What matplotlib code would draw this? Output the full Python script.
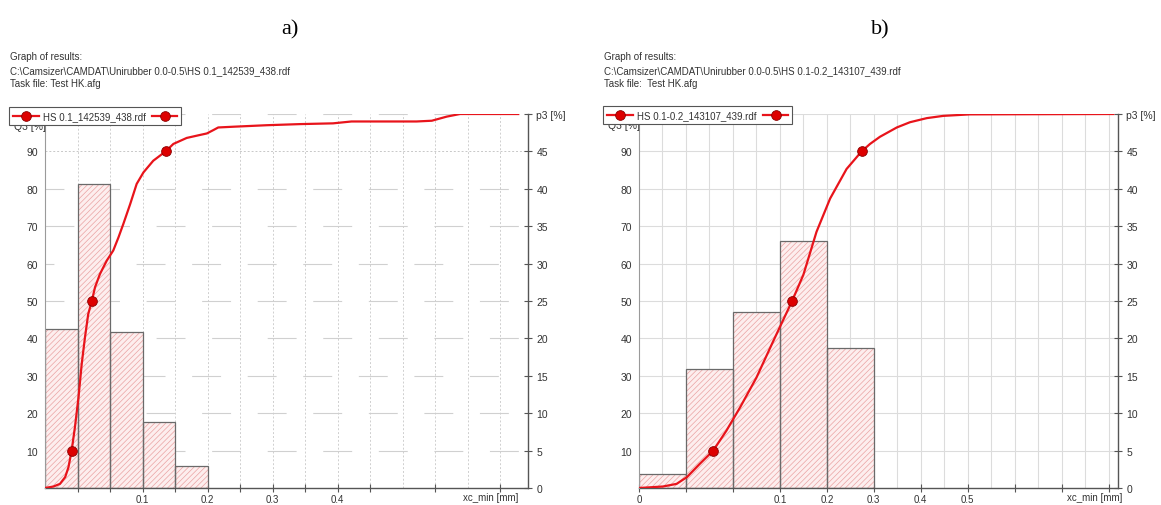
import matplotlib.pyplot as plt
import matplotlib.transforms as mtransforms
from matplotlib.lines import Line2D
from matplotlib.patches import Rectangle

W, H = 1161, 506

# ---- panel a: HS 0.1 ----
a_bins = [0, 1, 2, 3, 4]                      # class index on the xc_min axis
a_p3 = [21.2, 40.6, 20.8, 8.8, 3.0]           # p3 [%]
a_curve_x = [0, 0.26, 0.46, 0.62, 0.72, 0.82, 0.92, 1.03, 1.13, 1.23, 1.33, 1.44,
             1.54, 1.69, 1.9, 2.1, 2.26, 2.41, 2.62, 2.82, 3.03, 3.33, 3.71, 3.95,
             4.36, 4.77, 4.98, 5.18, 5.33, 5.8, 6.82, 7.85, 8.86, 9.43, 11.43, 11.9,
             12.36, 12.77, 14.56]
a_curve_q3 = [0, 0.4, 1.1, 2.9, 5.5, 10, 16.2, 24.2, 33.2, 40.3, 46.5, 50,
              53.7, 57.2, 60.8, 63.5, 67, 70.6, 75.9, 81.3, 84.4, 87.5, 90, 92,
              93.6, 94.4, 94.8, 95.7, 96.4, 96.6, 97, 97.3, 97.5, 98, 98, 98.2,
              99.3, 100, 100]
a_mark_x = [0.82, 1.44, 3.71]
a_mark_q3 = [10, 50, 90]
a_ticks = [1, 2, 3, 4, 5, 6, 7, 8, 9, 10, 12, 14]
a_tick_labels = ['', '', '0.1', '', '0.2', '', '0.3', '', '0.4', '', '', '']
a_file = 'C:\\Camsizer\\CAMDAT\\Unirubber 0.0-0.5\\HS 0.1_142539_438.rdf'
a_task = 'Task file: Test HK.afg'
a_legend = 'HS 0.1_142539_438.rdf'

# ---- panel b: HS 0.1-0.2 ----
b_bins = [0, 1, 2, 3, 4]
b_p3 = [1.9, 15.85, 23.5, 33.05, 18.75]
b_curve_x = [0, 0.51, 0.8, 1.02, 1.29, 1.58, 1.86, 2.15, 2.5, 2.86, 3.26, 3.5,
             3.78, 4.07, 4.42, 4.74, 4.92, 5.13, 5.49, 5.77, 6.13, 6.48, 7.05, 10.1]
b_curve_q3 = [0, 0.4, 1.1, 2.9, 6.4, 10, 15.3, 21.5, 29.5, 39.3, 50, 57,
              68.5, 77.4, 85.3, 90, 92, 93.9, 96.4, 97.8, 98.9, 99.5, 99.9, 100]
b_mark_x = [1.58, 3.26, 4.74]
b_mark_q3 = [10, 50, 90]
b_ticks = [0, 1, 2, 3, 4, 5, 6, 7, 8, 9, 10]
b_tick_labels = ['0', '', '', '0.1', '0.2', '0.3', '0.4', '0.5', '', '', '']
b_file = 'C:\\Camsizer\\CAMDAT\\Unirubber 0.0-0.5\\HS 0.1-0.2_143107_439.rdf'
b_task = 'Task file:  Test HK.afg'
b_legend = 'HS 0.1-0.2_143107_439.rdf'

RED = '#e8141b'
MK_FACE = '#dd0000'
MK_EDGE = '#8a0000'
TXT = '#333333'
FONT = 'Liberation Sans'

plt.rcParams['font.family'] = FONT
plt.rcParams['hatch.linewidth'] = 0.5

fig = plt.figure(figsize=(W / 100, H / 100), dpi=100)


def fx(x):
    return x / W


def fy(y):
    return 1 - y / H


def draw_panel(left_px, right_px, xmax, bins, p3, cx, cq, mx, mq, ticks, tick_labels,
               xlabel_x, file_txt, task_txt, legend_txt, legend_box, dashed_grid, letter, letter_x):
    top_px, bot_px = 115, 489
    ax_p = fig.add_axes([fx(left_px), fy(bot_px), fx(right_px - left_px), (bot_px - top_px) / H])
    ax_q = ax_p.twinx()

    # histogram (p3, right axis)
    ax_p.bar(bins, p3, width=1.0, align='edge', color='#fdeeee', edgecolor='#eaa3a3',
             hatch='//////', linewidth=0, zorder=2)
    ax_p.bar(bins, p3, width=1.0, align='edge', fill=False, edgecolor='#6a6a6a',
             linewidth=0.9, zorder=3)
    ax_p.set_xlim(0, xmax)
    ax_p.set_ylim(0, 50)
    ax_p.yaxis.set_ticks_position('right')
    ax_p.set_yticks(range(0, 55, 5))
    ax_p.set_yticklabels([str(v) for v in range(0, 50, 5)] + ['p3 [%]'])
    ax_p.tick_params(axis='y', direction='inout', length=6, width=0.8, colors='#555555',
                     labelcolor=TXT, labelsize=7.5, pad=3)
    ax_p.set_xticks(ticks)
    ax_p.set_xticklabels(tick_labels)
    ax_p.tick_params(axis='x', direction='inout', length=6, width=0.8, colors='#555555',
                     labelcolor=TXT, labelsize=7, pad=1.5)
    for s in ('top', 'left'):
        ax_p.spines[s].set_visible(False)
    for s in ('bottom', 'right'):
        ax_p.spines[s].set_color('#555555')
        ax_p.spines[s].set_linewidth(1.0)

    # grid
    if dashed_grid:
        for k, y in enumerate(range(5, 55, 5)):
            if y == 45:
                ax_p.axhline(y, color='#c8c8c8', lw=0.7, ls=(0, (2, 2)), zorder=0)
            else:
                ax_p.axhline(y, color='#d0d0d0', lw=0.8, ls=((k % 3) * 9, (26, 24)), zorder=0)
        for x in range(1, int(xmax) + 1):
            ax_p.axvline(x, color='#cfcfcf', lw=0.7, ls=(0, (2, 2)), zorder=0)
    else:
        for y in range(5, 55, 5):
            ax_p.axhline(y, color='#dcdcdc', lw=0.8, zorder=0)
        x = 0.5
        while x < xmax:
            ax_p.axvline(x, color='#dcdcdc', lw=0.8, zorder=0)
            x += 0.5

    # cumulative curve (Q3, left axis)
    ax_q.plot(cx, cq, color=RED, lw=1.6, zorder=4, solid_joinstyle='round')
    ax_q.plot(mx, mq, ls='none', marker='o', ms=7, mfc=MK_FACE, mec=MK_EDGE, mew=0.6, zorder=5)
    ax_q.set_ylim(0, 100)
    ax_q.set_xlim(0, xmax)
    ax_q.yaxis.set_ticks_position('left')
    ax_q.yaxis.set_label_position('left')
    ax_q.set_yticks(range(10, 100, 10))
    ax_q.tick_params(axis='y', length=0, labelcolor=TXT, labelsize=7.5, pad=5)
    for s in ('top', 'right', 'bottom'):
        ax_q.spines[s].set_visible(False)
    ax_q.spines['left'].set_color('#9a9a9a')
    ax_q.spines['left'].set_linewidth(0.8)

    trans = mtransforms.blended_transform_factory(ax_p.transData, ax_p.transAxes)
    ax_p.text(xlabel_x, -0.012, 'xc_min [mm]', transform=trans, ha='center', va='top',
              fontsize=7, color=TXT)

    # header
    hx = legend_box[0] + 1
    fig.text(fx(hx), fy(57), 'Graph of results:', fontsize=7, color=TXT, va='center')
    fig.text(fx(hx), fy(71), file_txt, fontsize=7, color=TXT, va='center')
    fig.text(fx(hx), fy(84), task_txt, fontsize=7, color=TXT, va='center')
    fig.text(fx(letter_x), fy(30), letter, fontsize=16, family='Liberation Serif',
             color='black', ha='center', va='center')

    # left axis unit, mostly hidden under the legend box
    x0, x1, y0, y1 = legend_box
    fig.text(fx(x0 + 5), fy(y1 + 1), 'Q3 [%]', fontsize=7.5, color=TXT, va='center', zorder=2)

    # legend box with marker line on both sides
    fig.add_artist(Rectangle((fx(x0), fy(y1)), fx(x1 - x0), (y1 - y0) / H,
                             transform=fig.transFigure, facecolor='white',
                             edgecolor='#555555', lw=0.8, zorder=6))
    ym = (y0 + y1) / 2
    for a, b in ((x0 + 4, x0 + 30), (x1 - 29, x1 - 4)):
        fig.add_artist(Line2D([fx(a), fx(b)], [fy(ym), fy(ym)], transform=fig.transFigure,
                              color=RED, lw=1.6, zorder=7))
        fig.add_artist(Line2D([fx((a + b) / 2)], [fy(ym)], transform=fig.transFigure,
                              ls='none', marker='o', ms=7, mfc=MK_FACE, mec=MK_EDGE,
                              mew=0.6, zorder=8))
    fig.text(fx(x0 + 34), fy(ym), legend_txt, fontsize=7, color=TXT, va='center', zorder=9)


draw_panel(45, 528, 14.86, a_bins, a_p3, a_curve_x, a_curve_q3, a_mark_x, a_mark_q3,
           a_ticks, a_tick_labels, 13.7, a_file, a_task, a_legend,
           (9, 181, 108, 126), True, 'a)', 290)
draw_panel(639, 1118, 10.2, b_bins, b_p3, b_curve_x, b_curve_q3, b_mark_x, b_mark_q3,
           b_ticks, b_tick_labels, 9.7, b_file, b_task, b_legend,
           (603, 792, 107, 125), False, 'b)', 880)

fig.savefig('out.png', dpi=100)
